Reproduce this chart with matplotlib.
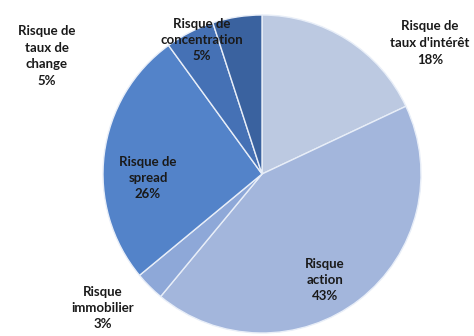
import matplotlib
matplotlib.use("Agg")
import matplotlib.pyplot as plt

categories = ["Risque de\ntaux d'intérêt", "Risque\naction", "Risque\nimmobilier",
              "Risque de\nspread", "Risque de\ntaux de\nchange", "Risque de\nconcentration"]
values = [18, 43, 3, 26, 5, 5]
colors = ["#bcc9e1", "#a3b6dc", "#8ea8d8", "#5383c9", "#4571b5", "#3a629f"]
# label centre positions in pixels (x, y from top)
label_px = [(430, 43), (325, 280), (103, 308), (148, 178), (47, 56), (202, 40)]

W, H = 474, 336
cx, cy, R = 262, 174, 159
fig = plt.figure(figsize=(W / 100, H / 100), dpi=100)
ax = fig.add_axes([(cx - R) / W, (H - cy - R) / H, 2 * R / W, 2 * R / H])
ax.pie(values, colors=colors, startangle=90, counterclock=False, radius=1,
       wedgeprops=dict(edgecolor="#e8eef8", linewidth=1.0))
ax.set_xlim(-1, 1)
ax.set_ylim(-1, 1)
ax.set_aspect("auto")
ax.axis("off")

for cat, v, (px, py) in zip(categories, values, label_px):
    ax.text((px - cx) / R, (cy - py) / R, f"{cat}\n{v}%", ha="center", va="center",
            fontsize=9.5, fontweight="bold", family=["Lato", "DejaVu Sans"],
            color="#1a1a1a", linespacing=1.45)

fig.savefig("out.png", dpi=100)
